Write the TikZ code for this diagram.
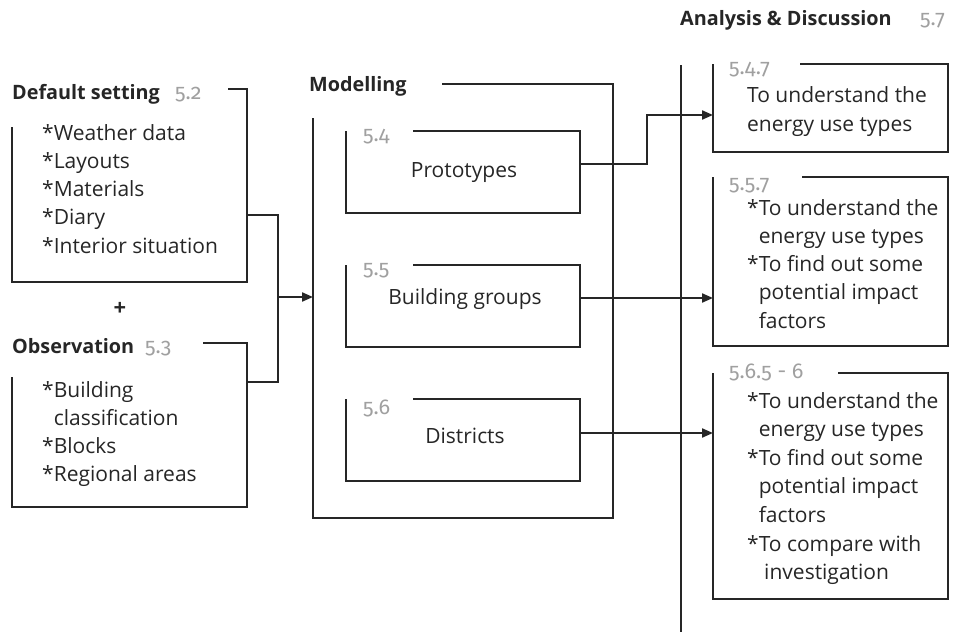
\documentclass[tikz,border=0pt]{standalone}
\usepackage{fontspec}
\setmainfont{Open Sans}
\newfontfamily\numfont[Numbers=OldStyle]{Fira Sans}
\usetikzlibrary{arrows.meta,fit}
\definecolor{ink}{HTML}{262626}
\definecolor{secno}{HTML}{A0A0A0}
\begin{document}
\begin{tikzpicture}[x=1pt,y=-1pt,
  rule/.style={draw=ink,line width=2.1pt},
  link/.style={rule,-{Triangle[length=11pt,width=9pt]}},
  frame/.style={draw=none,inner sep=0pt,outer sep=0pt},
  head/.style={anchor=base west,inner sep=0pt,font=\fontsize{19.8}{23}\selectfont\bfseries,text=ink},
  item/.style={anchor=base west,inner sep=0pt,font=\fontsize{21}{24}\selectfont,text=ink},
  goal/.style={anchor=base west,inner sep=0pt,font=\fontsize{21}{24}\selectfont,text=ink},
  secnum/.style={anchor=base west,inner sep=0pt,font=\numfont\fontsize{21.5}{24}\selectfont,text=secno},
]
\useasboundingbox (0,0) rectangle (970,632);

% ---------- input frames ----------
\node[frame,fit={(12,89) (247,282)}] (ds) {};
\node[frame,fit={(12,343) (247,507)}] (obs) {};
\draw[rule] (228,89) -| (ds.south east) -| (12,127);
\draw[rule] (203,343) -| (obs.south east) -| (12,377);

\node[head] (dsT) at (12,99) {Default setting};
\node[secnum] (dsN) at (175,99) {5.2};
\foreach \t [count=\i from 0] in {*Weather data,*Layouts,*Materials,*Diary,*Interior situation}
  \node[item,name=ds\i] at (42,140+28.25*\i) {\t};

\node[inner sep=0pt,font=\fontsize{22}{24}\selectfont\bfseries,text=ink] (plus) at (120,309) {+};

\node[head] (obT) at (12,353) {Observation};
\node[secnum] (obN) at (145,353) {5.3};
\foreach \t [count=\i from 0] in {*Building,\phantom{*}classification,*Blocks,*Regional areas}
  \node[item,name=ob\i] at (42,397+28*\i) {\t};

% ---------- modelling ----------
\node[frame,fit={(313,84) (613,518)}] (mod) {};
\draw[rule] (442,84) -| (mod.south east) -| (313,118);
\node[head] (modT) at (309,91) {Modelling};

\node[frame,fit={(346,131) (580,213)}] (proto) {};
\node[frame,fit={(346,265) (580,347)}] (bg) {};
\node[frame,fit={(346,399) (580,481)}] (dist) {};
\foreach \b in {proto,bg,dist}
  \draw[rule] ([xshift=67pt]\b.north west) -| (\b.south east) -| (\b.north west);

\node[secnum] (protoN) at (363,141) {5.4};
\node[item,anchor=base] (protoT) at (464,177) {Prototypes};
\node[secnum] (bgN) at (363,275) {5.5};
\node[item,anchor=base] (bgT) at (465,304) {Building groups};
\node[secnum] (distN) at (363,414) {5.6};
\node[item,anchor=base] (distT) at (465,443) {Districts};

% ---------- analysis & discussion ----------
\node[head] (anT) at (680,25) {Analysis \& Discussion};
\node[secnum] (anN) at (920,25) {5.7};
\coordinate (anTop) at (681,65);
\coordinate (anBot) at (681,632);
\draw[rule] (anTop) -- (anBot);

\node[frame,fit={(713,64) (948,152)}] (an1) {};
\node[frame,fit={(713,177) (948,346)}] (an2) {};
\node[frame,fit={(713,373) (948,599)}] (an3) {};
\draw[rule] (800,64) -| (an1.south east) -| (an1.north west);
\draw[rule] (802,177) -| (an2.south east) -| (an2.north west);
\draw[rule] (838,373) -| (an3.south east) -| (an3.north west);

\node[secnum] (an1N) at (729,74) {5.4.7};
\node[goal] (an1a) at (747,102) {To understand the};
\node[goal] (an1b) at (747,131) {energy use types};

\node[secnum] (an2N) at (729,190) {5.5.7};
\foreach \t [count=\i from 0] in {*To understand the,\phantom{*}energy use types,*To find out some,\phantom{*}potential impact,\phantom{*}factors}
  \node[goal,name=an2\i] at (747,215+28.3*\i) {\t};

\node[secnum] (an3N) at (729,378) {5.6.5 - 6};
\foreach \t [count=\i from 0] in {*To understand the,\phantom{*}energy use types,*To find out some,\phantom{*}potential impact,\phantom{*}factors,*To compare with,\phantom{*} investigation}
  \node[goal,name=an3\i] at (747,408+28.6*\i) {\t};

% ---------- connectors ----------
\coordinate (join) at (278,297);
\coordinate (protoOut) at ([yshift=8pt]proto.east);
\coordinate (bgOut) at ([yshift=8pt]bg.east);
\coordinate (distOut) at ([yshift=7pt]dist.east);
\coordinate (an1In) at ([yshift=-7pt]an1.west);
\draw[rule] ([yshift=-29.5pt]ds.east) -| (join);
\draw[rule] ([yshift=43pt]obs.east) -| (join);
\draw[link] (join) -- (mod.west |- join);

\draw[link] (protoOut) -- ++(67,0) |- (an1In);
\draw[link] (bgOut) -- (an2.west |- bgOut);
\draw[link] (distOut) -- (an3.west |- distOut);
\end{tikzpicture}
\end{document}
